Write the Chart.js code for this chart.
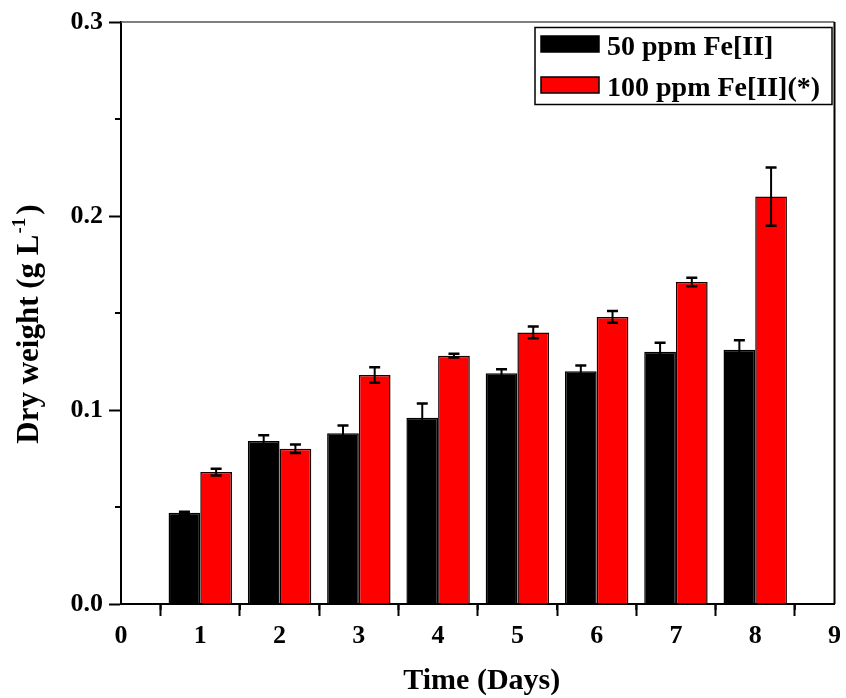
<!DOCTYPE html>
<html>
<head>
<meta charset="utf-8">
<script src="https://cdn.jsdelivr.net/npm/chart.js@4.4.0/dist/chart.umd.min.js"></script>
<style>
  html, body { margin: 0; padding: 0; background: #fff; }
  #wrap { width: 846px; height: 698px; position: relative; }
</style>
</head>
<body>
<div id="wrap"><canvas id="chart"></canvas></div>
<script>
// dry weight per day, two iron concentrations (mean and error)
const days = [1, 2, 3, 4, 5, 6, 7, 8];
const fe50 = [0.047, 0.084, 0.088, 0.096, 0.119, 0.120, 0.130, 0.131];
const fe50Err = [0.0005, 0.003, 0.004, 0.0073, 0.002, 0.003, 0.0047, 0.005];
const fe100 = [0.068, 0.080, 0.118, 0.128, 0.140, 0.148, 0.166, 0.210];
const fe100Err = [0.0017, 0.0022, 0.004, 0.001, 0.003, 0.003, 0.0022, 0.015];

const yTickLabels = ["0.0", "0.1", "0.2", "0.3"];
const xTickLabels = ["0", "1", "2", "3", "4", "5", "6", "7", "8", "9"];
const yMinor = [0.05, 0.15, 0.25];
const xMinor = [0.5, 1.5, 2.5, 3.5, 4.5, 5.5, 6.5, 7.5, 8.5];

const serif = '"Liberation Serif", "Times New Roman", serif';
const ctx = document.querySelector("#chart").getContext("2d");

function toPoints(vals) {
  return days.map((d, i) => ({ x: d, y: vals[i] }));
}

// error bars, box edges, minor ticks, axis titles and legend
const extras = {
  id: "extras",
  afterDatasetsDraw(chart) {
    const c = chart.ctx;
    const ys = chart.scales.y;
    c.save();
    c.strokeStyle = "#000";
    chart.data.datasets.forEach((ds, i) => {
      chart.getDatasetMeta(i).data.forEach((bar, j) => {
        const v = ds.data[j].y;
        const e = ds.errors[j];
        const top = ys.getPixelForValue(v + e);
        const bot = ys.getPixelForValue(v - e);
        c.lineWidth = 2;
        c.beginPath();
        c.moveTo(bar.x, top);
        c.lineTo(bar.x, bot);
        c.stroke();
        c.lineWidth = 2.5;
        c.beginPath();
        c.moveTo(bar.x - 5.5, top);
        c.lineTo(bar.x + 5.5, top);
        c.moveTo(bar.x - 5.5, bot);
        c.lineTo(bar.x + 5.5, bot);
        c.stroke();
      });
    });
    c.restore();
  },
  afterDraw(chart) {
    const c = chart.ctx;
    const a = chart.chartArea;
    const xs = chart.scales.x;
    const ys = chart.scales.y;
    c.save();

    // top and right frame
    c.strokeStyle = "#555";
    c.lineWidth = 1.5;
    c.beginPath();
    c.moveTo(a.left, a.top);
    c.lineTo(a.right, a.top);
    c.stroke();
    c.strokeStyle = "#000";
    c.lineWidth = 2;
    c.beginPath();
    c.moveTo(a.right, a.top);
    c.lineTo(a.right, a.bottom);
    c.stroke();

    // minor ticks
    c.lineWidth = 2;
    c.beginPath();
    yMinor.forEach(v => {
      const p = ys.getPixelForValue(v);
      c.moveTo(a.left - 6, p);
      c.lineTo(a.left, p);
    });
    xMinor.forEach(v => {
      const p = xs.getPixelForValue(v);
      c.moveTo(p, a.bottom);
      c.lineTo(p, a.bottom + 6);
    });
    c.stroke();

    // axis titles
    c.fillStyle = "#000";
    c.font = "bold 30px " + serif;
    c.textAlign = "center";
    c.textBaseline = "alphabetic";
    c.fillText("Time (Days)", (a.left + a.right) / 2 + 4, 689);

    const main = "Dry weight (g L";
    const sup = "-1";
    const tail = ")";
    c.font = "bold 31px " + serif;
    const w1 = c.measureText(main).width;
    const w3 = c.measureText(tail).width;
    c.font = "bold 19px " + serif;
    const ws = c.measureText(sup).width;
    const total = w1 + ws + 4 + w3;
    c.translate(38, 324);
    c.rotate(-Math.PI / 2);
    c.textAlign = "left";
    let x0 = -total / 2;
    c.font = "bold 31px " + serif;
    c.fillText(main, x0, 0);
    c.font = "bold 19px " + serif;
    c.fillText(sup, x0 + w1 + 1, -13);
    c.font = "bold 31px " + serif;
    c.fillText(tail, x0 + w1 + ws + 4, 0);
    c.setTransform(1, 0, 0, 1, 0, 0);

    // legend
    c.strokeStyle = "#000";
    c.lineWidth = 1.5;
    c.strokeRect(535, 27.5, 297, 77);
    c.font = "bold 28px " + serif;
    c.textAlign = "left";
    chart.data.datasets.forEach((ds, i) => {
      const y = 36 + i * 41;
      c.fillStyle = ds.backgroundColor;
      c.fillRect(541, y, 58, 16);
      c.lineWidth = 1.5;
      c.strokeRect(541, y, 58, 16);
      c.fillStyle = "#000";
      c.fillText(ds.label, 607, y + 19);
    });
    c.restore();
  }
};

new Chart(ctx, {
  type: "bar",
  data: {
    datasets: [
      {
        label: "50 ppm Fe[II]",
        data: toPoints(fe50),
        errors: fe50Err,
        backgroundColor: "#000000",
        borderColor: "#000000",
        borderWidth: 1.5,
      },
      {
        label: "100 ppm Fe[II](*)",
        data: toPoints(fe100),
        errors: fe100Err,
        backgroundColor: "#ff0000",
        borderColor: "#1a0000",
        borderWidth: 1.5,
      },
    ],
  },
  options: {
    responsive: true,
    maintainAspectRatio: false,
    animation: false,
    events: [],
    layout: { padding: { top: 22, right: 9, left: 0, bottom: 0 } },
    datasets: { bar: { categoryPercentage: 0.8, barPercentage: 1.0 } },
    plugins: { legend: { display: false }, tooltip: { enabled: false } },
    scales: {
      x: {
        type: "linear",
        min: 0,
        max: 9,
        offset: false,
        ticks: {
          stepSize: 1,
          padding: 5,
          color: "#000",
          font: { family: serif, size: 26, weight: "bold" },
          callback: (v) => xTickLabels[v],
        },
        grid: { drawOnChartArea: false, tickLength: 12, tickColor: "#000", tickWidth: 2 },
        border: { color: "#000", width: 2 },
        afterFit: (s) => { s.height = 94; },
      },
      y: {
        min: 0,
        max: 0.3,
        ticks: {
          stepSize: 0.1,
          padding: 6,
          color: "#000",
          font: { family: serif, size: 26, weight: "bold" },
          callback: (v) => yTickLabels[Math.round(v * 10)],
        },
        grid: { drawOnChartArea: false, tickLength: 12, tickColor: "#000", tickWidth: 2 },
        border: { color: "#000", width: 2 },
        afterFit: (s) => { s.width = 121; },
      },
    },
  },
  plugins: [extras],
});
</script>
</body>
</html>
